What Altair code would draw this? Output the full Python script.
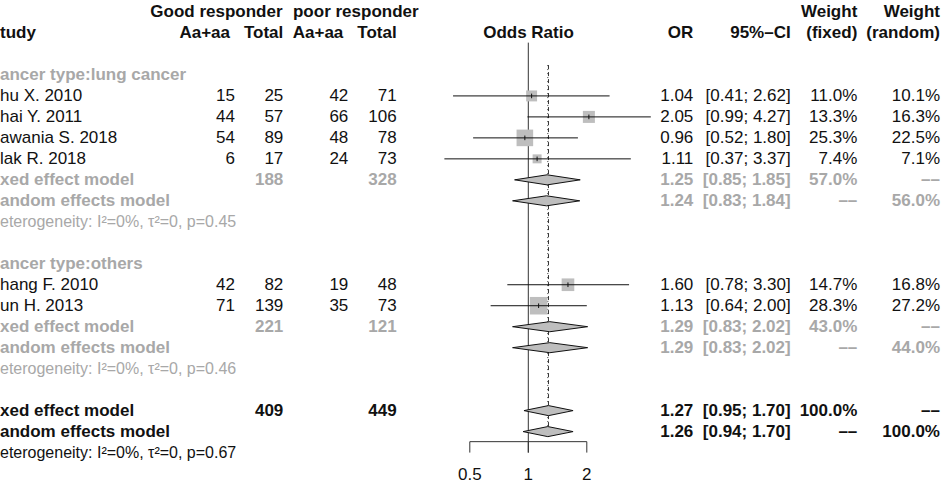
import altair as alt
import pandas as pd

# ---------------------------------------------------------------- layout
W, H = 948, 492
ROW0_PX, ROW_PX = 12.0, 20.98          # pixel centre of row 0 and the row pitch
X_ONE, PX_PER_DOUBLING = 528.3, 58.5   # where OR = 1 sits and pixels per doubling of OR
FONT = "Liberation Sans"
FS = 17
BLACK, GRAY, FILL = "#111111", "#a8a8a8", "#bebebe"

# ---------------------------------------------------------------- study rows
study_labels = ["hu X. 2010", "hai Y. 2011", "awania S. 2018", "lak R. 2018",
                "hang F. 2010", "un H. 2013"]
study_rows = [4, 5, 6, 7, 13, 14]
good_events = [15, 44, 54, 6, 42, 71]
good_total = [25, 57, 89, 17, 82, 139]
poor_events = [42, 66, 48, 24, 19, 35]
poor_total = [71, 106, 78, 73, 48, 73]
study_or = [1.04, 2.05, 0.96, 1.11, 1.60, 1.13]
study_lo = [0.41, 0.99, 0.52, 0.37, 0.78, 0.64]
study_hi = [2.62, 4.27, 1.80, 3.37, 3.30, 2.00]
study_w_fixed = [11.0, 13.3, 25.3, 7.4, 14.7, 28.3]
study_w_random = [10.1, 16.3, 22.5, 7.1, 16.8, 27.2]

# ---------------------------------------------------------------- pooled rows
pooled_labels = ["xed effect model", "andom effects model"] * 3
pooled_rows = [8, 9, 15, 16, 19, 20]
pooled_overall = [False, False, False, False, True, True]
pooled_good_total = [188, None, 221, None, 409, None]
pooled_poor_total = [328, None, 121, None, 449, None]
pooled_or = [1.25, 1.24, 1.29, 1.29, 1.27, 1.26]
pooled_lo = [0.85, 0.83, 0.83, 0.83, 0.95, 0.94]
pooled_hi = [1.85, 1.84, 2.02, 2.02, 1.70, 1.70]
pooled_w_fixed = [57.0, None, 43.0, None, 100.0, None]
pooled_w_random = [None, 56.0, None, 44.0, None, 100.0]

subgroup_labels = ["ancer type:lung cancer", "ancer type:others"]
subgroup_rows = [3, 12]

het_labels = ["eterogeneity: I\u00b2=0%, \u03c4\u00b2=0, p=0.45",
              "eterogeneity: I\u00b2=0%, \u03c4\u00b2=0, p=0.46",
              "eterogeneity: I\u00b2=0%, \u03c4\u00b2=0, p=0.67"]
het_rows = [10, 17, 21]
het_overall = [False, False, True]

axis_ticks = [0.5, 1, 2]

# ---------------------------------------------------------------- text columns
COLS = {
    "label": (0, "left"),
    "good_hdr": (216.4, "center"),
    "poor_hdr": (355.8, "center"),
    "good_e_hdr": (230.0, "right"),
    "poor_e_hdr": (343.3, "right"),
    "good_e": (235.0, "right"),
    "good_n": (283.3, "right"),
    "poor_e": (348.3, "right"),
    "poor_n": (396.7, "right"),
    "forest_hdr": (528.5, "center"),
    "or": (693.3, "right"),
    "ci": (790.7, "right"),
    "wf": (857.3, "right"),
    "wr": (940.0, "right"),
}

cells = []


def add(row, col, text, bold=False, gray=False, size=FS):
    cells.append({"row": row, "col": col, "text": text, "bold": bold,
                  "color": GRAY if gray else BLACK, "size": size})


def pct(v):
    return "\u2013\u2013" if v is None else f"{v:.1f}%"


# header
add(0, "good_hdr", "Good responder", True)
add(0, "poor_hdr", "poor responder", True)
add(0, "wf", "Weight", True)
add(0, "wr", "Weight", True)
add(1, "label", "tudy", True)
add(1, "good_e_hdr", "Aa+aa", True)
add(1, "good_n", "Total", True)
add(1, "poor_e_hdr", "Aa+aa", True)
add(1, "poor_n", "Total", True)
add(1, "forest_hdr", "Odds Ratio", True)
add(1, "or", "OR", True)
add(1, "ci", "95%\u2013CI", True)
add(1, "wf", "(fixed)", True)
add(1, "wr", "(random)", True)

for lab, r in zip(subgroup_labels, subgroup_rows):
    add(r, "label", lab, True, True)

for i, r in enumerate(study_rows):
    add(r, "label", study_labels[i])
    add(r, "good_e", str(good_events[i]))
    add(r, "good_n", str(good_total[i]))
    add(r, "poor_e", str(poor_events[i]))
    add(r, "poor_n", str(poor_total[i]))
    add(r, "or", f"{study_or[i]:.2f}")
    add(r, "ci", f"[{study_lo[i]:.2f}; {study_hi[i]:.2f}]")
    add(r, "wf", pct(study_w_fixed[i]))
    add(r, "wr", pct(study_w_random[i]))

for i, r in enumerate(pooled_rows):
    g = not pooled_overall[i]
    add(r, "label", pooled_labels[i], True, g)
    if pooled_good_total[i] is not None:
        add(r, "good_n", str(pooled_good_total[i]), True, g)
        add(r, "poor_n", str(pooled_poor_total[i]), True, g)
    add(r, "or", f"{pooled_or[i]:.2f}", True, g)
    add(r, "ci", f"[{pooled_lo[i]:.2f}; {pooled_hi[i]:.2f}]", True, g)
    add(r, "wf", pct(pooled_w_fixed[i]), True, g)
    add(r, "wr", pct(pooled_w_random[i]), True, g)

for lab, r, ov in zip(het_labels, het_rows, het_overall):
    add(r, "label", lab, False, not ov, 16)

cells_df = pd.DataFrame(cells)

# ---------------------------------------------------------------- scales
y_scale = alt.Scale(domain=[-ROW0_PX / ROW_PX, (H - ROW0_PX) / ROW_PX],
                    reverse=True, nice=False, zero=False)
or_scale = alt.Scale(type="log", nice=False,
                     domain=[2 ** (-X_ONE / PX_PER_DOUBLING),
                             2 ** ((W - X_ONE) / PX_PER_DOUBLING)])


def yenc(field):
    return alt.Y(f"{field}:Q", scale=y_scale, axis=None)


def xenc(field):
    return alt.X(f"{field}:Q", scale=or_scale, axis=None)


layers = []

# ---------------------------------------------------------------- text layers
for (col, bold, size), _ in cells_df.groupby(["col", "bold", "size"]):
    xpos, align = COLS[col]
    sub = cells_df[(cells_df.col == col) & (cells_df.bold == bold) & (cells_df["size"] == size)]
    layers.append(
        alt.Chart(sub).mark_text(align=align, baseline="middle", font=FONT,
                                 fontSize=int(size),
                                 fontWeight="bold" if bold else "normal")
        .encode(x=alt.value(xpos), y=yenc("row"), text="text:N",
                color=alt.Color("color:N", scale=None))
    )

# ---------------------------------------------------------------- reference lines
ref_df = pd.DataFrame({"v": [1.0], "top": [1.46], "bottom": [21.0]})
layers.append(alt.Chart(ref_df).mark_rule(color="#333333", strokeWidth=1)
              .encode(x=xenc("v"), y=yenc("top"), y2="bottom:Q"))

overall_fixed = pooled_or[4]
overall_random = pooled_or[5]
pool_line_df = pd.DataFrame({"v": [overall_fixed], "top": [2.53], "bottom": [20.26]})
layers.append(alt.Chart(pool_line_df).mark_rule(color="#333333", strokeWidth=1, strokeDash=[4, 3])
              .encode(x=xenc("v"), y=yenc("top"), y2="bottom:Q"))
pool_line_r = pd.DataFrame({"v": [overall_random], "top": [2.53], "bottom": [20.26]})
layers.append(alt.Chart(pool_line_r).mark_rule(color="#333333", strokeWidth=1, strokeDash=[1, 3])
              .encode(x=xenc("v"), y=yenc("top"), y2="bottom:Q"))

# ---------------------------------------------------------------- study estimates
study_df = pd.DataFrame({"row": study_rows, "or": study_or, "lo": study_lo,
                         "hi": study_hi, "wf": study_w_fixed})
layers.append(alt.Chart(study_df).mark_square(filled=True, color=FILL, opacity=1)
              .encode(x=xenc("or"), y=yenc("row"),
                      size=alt.Size("wf:Q", scale=alt.Scale(domain=[0, 100], range=[0, 1089]),
                                    legend=None)))
layers.append(alt.Chart(study_df).mark_rule(color=BLACK, strokeWidth=1)
              .encode(x=xenc("lo"), x2="hi:Q", y=yenc("row")))
layers.append(alt.Chart(study_df)
              .transform_calculate(t0="datum.row - 0.11", t1="datum.row + 0.11")
              .mark_rule(color=BLACK, strokeWidth=1)
              .encode(x=xenc("or"), y=yenc("t0"), y2="t1:Q"))

# ---------------------------------------------------------------- pooled diamonds
DIAMOND_H = 0.24
dia = []
for i, r in enumerate(pooled_rows):
    dia += [
        {"id": i, "x": pooled_lo[i], "y0": r, "y1": r},
        {"id": i, "x": pooled_or[i], "y0": r - DIAMOND_H, "y1": r + DIAMOND_H},
        {"id": i, "x": pooled_hi[i], "y0": r, "y1": r},
    ]
dia_df = pd.DataFrame(dia)
layers.append(alt.Chart(dia_df).mark_area(fill=FILL, stroke=BLACK, strokeWidth=1,
                                          orient="vertical", opacity=1)
              .encode(x=xenc("x"), y=yenc("y0"), y2="y1:Q", detail="id:N"))

# ---------------------------------------------------------------- OR axis
AXIS_ROW, TICK_END, LABEL_ROW = 20.48, 21.0, 22.07
axis_line = pd.DataFrame({"a": [min(axis_ticks)], "b": [max(axis_ticks)], "r": [AXIS_ROW]})
layers.append(alt.Chart(axis_line).mark_rule(color="#333333", strokeWidth=1)
              .encode(x=xenc("a"), x2="b:Q", y=yenc("r")))
tick_df = pd.DataFrame({"v": axis_ticks})
layers.append(alt.Chart(tick_df)
              .transform_calculate(t0=str(AXIS_ROW), t1=str(TICK_END), lr=str(LABEL_ROW))
              .mark_rule(color="#333333", strokeWidth=1)
              .encode(x=xenc("v"), y=yenc("t0"), y2="t1:Q"))
layers.append(alt.Chart(tick_df)
              .transform_calculate(lr=str(LABEL_ROW))
              .mark_text(font=FONT, fontSize=FS, baseline="middle", align="center", color=BLACK)
              .encode(x=xenc("v"), y=yenc("lr"), text=alt.Text("v:Q")))

chart = (
    alt.layer(*layers)
    .properties(width=W, height=H, padding=0,
                autosize=alt.AutoSizeParams(type="none"), background="white")
    .configure_view(stroke=None)
)

chart.save("out.html", embed_options={"renderer": "svg", "actions": False})
